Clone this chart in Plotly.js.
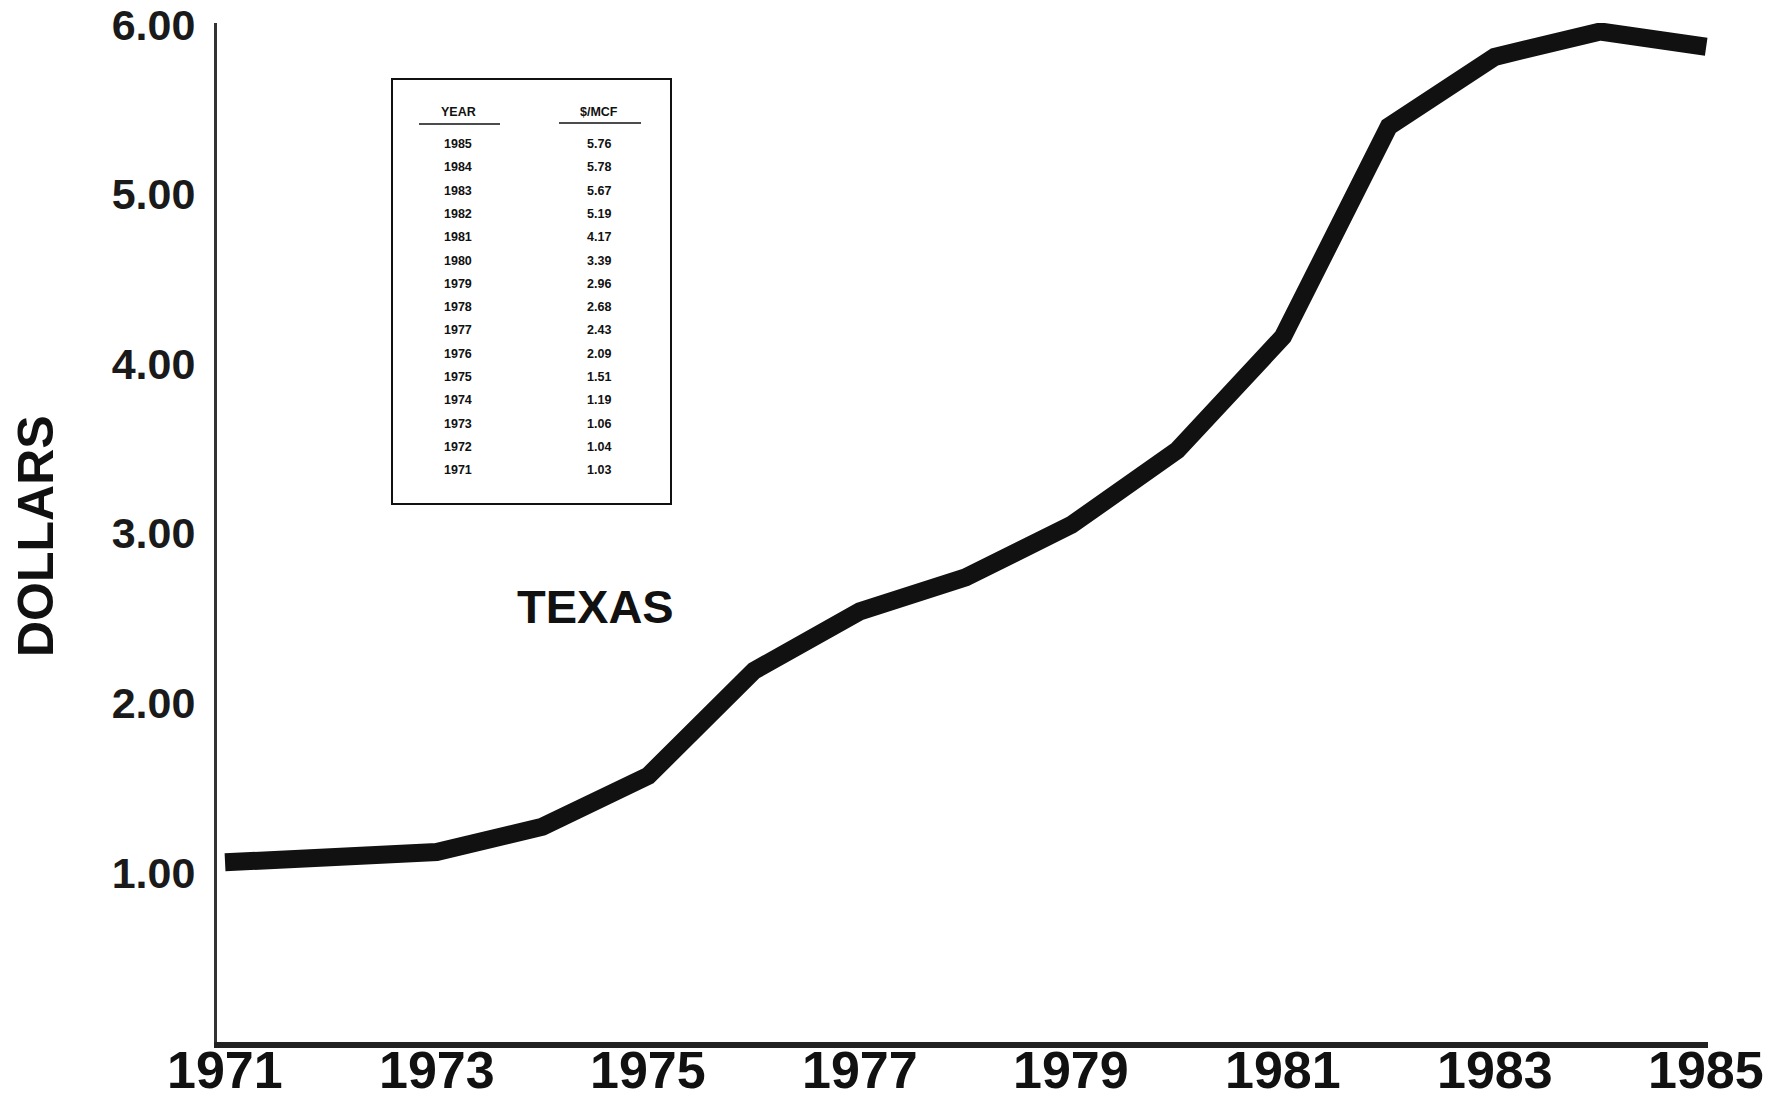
<!DOCTYPE html>
<html>
<head>
<meta charset="utf-8">
<script src="https://cdn.plot.ly/plotly-3.0.1.min.js"></script>
<style>html,body{margin:0;padding:0;background:#fff;}#chart{width:1789px;height:1104px;}</style>
</head>
<body>
<div id="chart"></div>
<script>
// Years plotted on the chart
const years = [1971, 1972, 1973, 1974, 1975, 1976, 1977, 1978, 1979, 1980, 1981, 1982, 1983, 1984, 1985];
// Line values as drawn in the picture ($/MCF)
const lineValues = [1.06, 1.09, 1.12, 1.27, 1.57, 2.19, 2.54, 2.74, 3.05, 3.49, 4.16, 5.40, 5.81, 5.96, 5.87];
// Inset table (as printed)
const tableYears = ["1985", "1984", "1983", "1982", "1981", "1980", "1979", "1978", "1977", "1976", "1975", "1974", "1973", "1972", "1971"];
const tablePrices = ["5.76", "5.78", "5.67", "5.19", "4.17", "3.39", "2.96", "2.68", "2.43", "2.09", "1.51", "1.19", "1.06", "1.04", "1.03"];
const tableHeaders = ["YEAR", "$/MCF"];
const yTickVals = [1, 2, 3, 4, 5, 6];
const yTickText = ["1.00", "2.00", "3.00", "4.00", "5.00", "6.00"];
const xTickVals = [1971, 1973, 1975, 1977, 1979, 1981, 1983, 1985];
const seriesLabel = "TEXAS";
const yTitle = "DOLLARS";

// plot area in pixels
const L = 217, R = 1708, T = 23, B = 1042;
const W = R - L, H = B - T;
const px = x => (x - L) / W;
const py = y => (B - y) / H;

const annotations = [];
const shapes = [];

// Table box
shapes.push({type: 'rect', xref: 'paper', yref: 'paper',
  x0: px(392), x1: px(671), y0: py(504), y1: py(79),
  line: {color: '#111', width: 2}, fillcolor: 'rgba(0,0,0,0)'});
// header underlines
shapes.push({type: 'line', xref: 'paper', yref: 'paper', x0: px(419), x1: px(500), y0: py(124), y1: py(124), line: {color: '#111', width: 1.5}});
shapes.push({type: 'line', xref: 'paper', yref: 'paper', x0: px(559), x1: px(641), y0: py(123), y1: py(123), line: {color: '#111', width: 1.5}});

const colX = [458, 599];
const tFont = {family: 'Liberation Sans, Arial, sans-serif', size: 12.5, color: '#111', weight: 'bold'};
tableHeaders.forEach((h, i) => {
  annotations.push({xref: 'paper', yref: 'paper', x: px(colX[i]), y: py(112), text: '<b>' + h + '</b>',
    showarrow: false, xanchor: 'center', yanchor: 'middle', font: tFont});
});
tableYears.forEach((yr, i) => {
  const yy = 144 + i * 23.3;
  annotations.push({xref: 'paper', yref: 'paper', x: px(colX[0]), y: py(yy), text: '<b>' + yr + '</b>',
    showarrow: false, xanchor: 'center', yanchor: 'middle', font: tFont});
  annotations.push({xref: 'paper', yref: 'paper', x: px(colX[1]), y: py(yy), text: '<b>' + tablePrices[i] + '</b>',
    showarrow: false, xanchor: 'center', yanchor: 'middle', font: tFont});
});

// X axis year labels (drawn as annotations at the axis' own x positions)
xTickVals.forEach(v => {
  annotations.push({xref: 'x', yref: 'paper', x: v, y: py(1070), text: '<b>' + v + '</b>',
    showarrow: false, xanchor: 'center', yanchor: 'middle',
    font: {family: 'Liberation Sans, Arial, sans-serif', size: 52, color: '#111'}});
});

// TEXAS label
annotations.push({xref: 'paper', yref: 'paper', x: px(595), y: py(606), text: '<b>' + seriesLabel + '</b>',
  showarrow: false, xanchor: 'center', yanchor: 'middle',
  font: {family: 'Liberation Sans, Arial, sans-serif', size: 47, color: '#111'}});

// DOLLARS title
annotations.push({xref: 'paper', yref: 'paper', x: px(36), y: py(536), text: '<b>' + yTitle + '</b>',
  showarrow: false, xanchor: 'center', yanchor: 'middle', textangle: -90,
  font: {family: 'Liberation Sans, Arial, sans-serif', size: 50, color: '#111'}});

const trace = {
  x: years, y: lineValues, type: 'scatter', mode: 'lines',
  line: {color: '#111', width: 18}, hoverinfo: 'skip'
};

const layout = {
  width: 1789, height: 1104,
  margin: {l: L, r: 1789 - R, t: T, b: 1104 - B},
  paper_bgcolor: '#fff', plot_bgcolor: '#fff',
  showlegend: false,
  xaxis: {
    range: [1970.924, 1985.017], tickvals: xTickVals, showticklabels: false,
    showgrid: false, zeroline: false, showline: true, linecolor: '#222', linewidth: 6,
    ticks: ''
  },
  yaxis: {
    range: [0, 6.01], tickvals: yTickVals, ticktext: yTickText,
    showgrid: false, zeroline: false, showline: true, linecolor: '#333', linewidth: 3,
    ticks: '', ticklabelstandoff: 10,
    tickfont: {family: 'Liberation Sans, Arial, sans-serif', size: 43, color: '#1a1a1a', weight: 'bold'}
  },
  shapes: shapes,
  annotations: annotations
};

Plotly.newPlot('chart', [trace], layout, {displayModeBar: false, staticPlot: true});
</script>
</body>
</html>
